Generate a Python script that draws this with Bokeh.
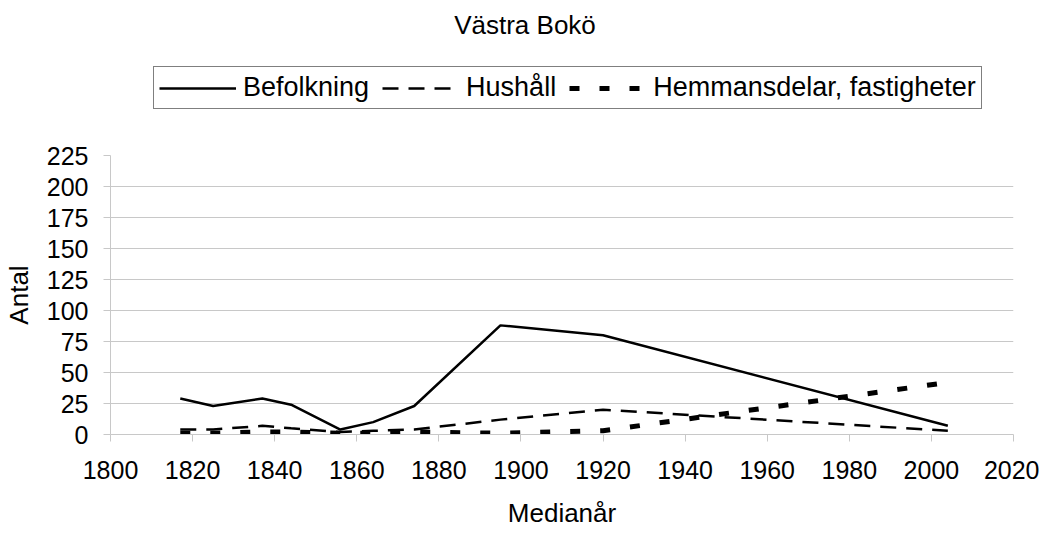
from bokeh.plotting import figure
from bokeh.layouts import column
from bokeh.models import Range1d, SingleIntervalTicker, Legend, Label
from bokeh.embed import file_html
from bokeh.resources import INLINE

# Data
years = [1817, 1825, 1837, 1844, 1856, 1864, 1874, 1895, 1920, 2004]
befolkning = [29, 23, 29, 24, 4, 10, 23, 88, 80, 7]
hushall = [4, 4, 7, 5, 2, 3, 4, 12, 20, 3]
hemmansdelar = [1, 1, 2, 2, 1, 1, 2, 1, 3, 42]

series_names = ["Befolkning", "Hushåll", "Hemmansdelar, fastigheter"]
title_text = "Västra Bokö"
x_label = "Medianår"
y_label = "Antal"

FONT = "Liberation Sans"
GRID = "#c8c8c8"
styles = [dict(line_color="black", line_width=2.5),
          dict(line_color="black", line_width=2.5, line_dash="16 10"),
          dict(line_color="black", line_width=5, line_dash="10 20")]
NAN = float("nan")

# ---- header: title + legend ----
head = figure(width=1039, height=134, output_backend="svg", toolbar_location=None,
              x_range=Range1d(0, 1), y_range=Range1d(0, 1),
              x_axis_type=None, y_axis_type=None,
              min_border_left=0, min_border_right=0, min_border_top=0, min_border_bottom=0)
head.outline_line_color = None
head.grid.visible = False
head.background_fill_color = "white"
head.border_fill_color = "white"
leg_renderers = [head.line(x=[NAN], y=[NAN], **s) for s in styles]

legend = Legend(items=[(n, [r]) for n, r in zip(series_names, leg_renderers)],
                orientation="horizontal", location=(43, 25),
                padding=5, spacing=13, margin=0,
                glyph_width=77, glyph_height=20, label_standoff=7,
                label_text_font=FONT, label_text_font_size="27px",
                label_text_color="black",
                border_line_color="black", border_line_width=1,
                background_fill_color="white", background_fill_alpha=1)
head.add_layout(legend)
head.add_layout(Label(x=414.5, y=110, x_units="screen", y_units="screen",
                      text=title_text, text_align="center", text_baseline="middle",
                      text_font=FONT, text_font_size="26px", text_color="black"))

# ---- main chart ----
p = figure(width=1039, height=396, output_backend="svg", toolbar_location=None,
           x_range=Range1d(1800, 2020), y_range=Range1d(0, 225),
           min_border_left=104, min_border_right=26,
           min_border_top=21, min_border_bottom=95)
p.outline_line_color = None
p.background_fill_color = "white"
p.border_fill_color = "white"
p.xgrid.grid_line_color = None
p.ygrid.grid_line_color = GRID
p.ygrid.grid_line_width = 1

p.xaxis.ticker = SingleIntervalTicker(interval=20)
p.yaxis.ticker = SingleIntervalTicker(interval=25)
for ax in (p.xaxis[0], p.yaxis[0]):
    ax.axis_line_color = GRID
    ax.axis_line_width = 1
    ax.major_tick_line_color = GRID
    ax.minor_tick_line_color = None
    ax.major_tick_in = 0
    ax.major_tick_out = 7
    ax.major_label_text_font = FONT
    ax.major_label_text_font_size = "25px"
    ax.major_label_text_color = "black"
    ax.axis_label_text_font = FONT
    ax.axis_label_text_font_size = "26px"
    ax.axis_label_text_font_style = "normal"
    ax.axis_label_text_color = "black"

p.xaxis.major_label_standoff = 19
p.xaxis.axis_label = x_label
p.xaxis.axis_label_standoff = 16
p.yaxis.major_label_standoff = 15
p.yaxis.axis_label = y_label
p.yaxis.axis_label_standoff = 10

p.line(years, befolkning, **styles[0])
p.line(years, hushall, **styles[1])
p.line(years, hemmansdelar, **styles[2])

layout = column(head, p, spacing=0)
open("out.html", "w").write(file_html(layout, INLINE))
